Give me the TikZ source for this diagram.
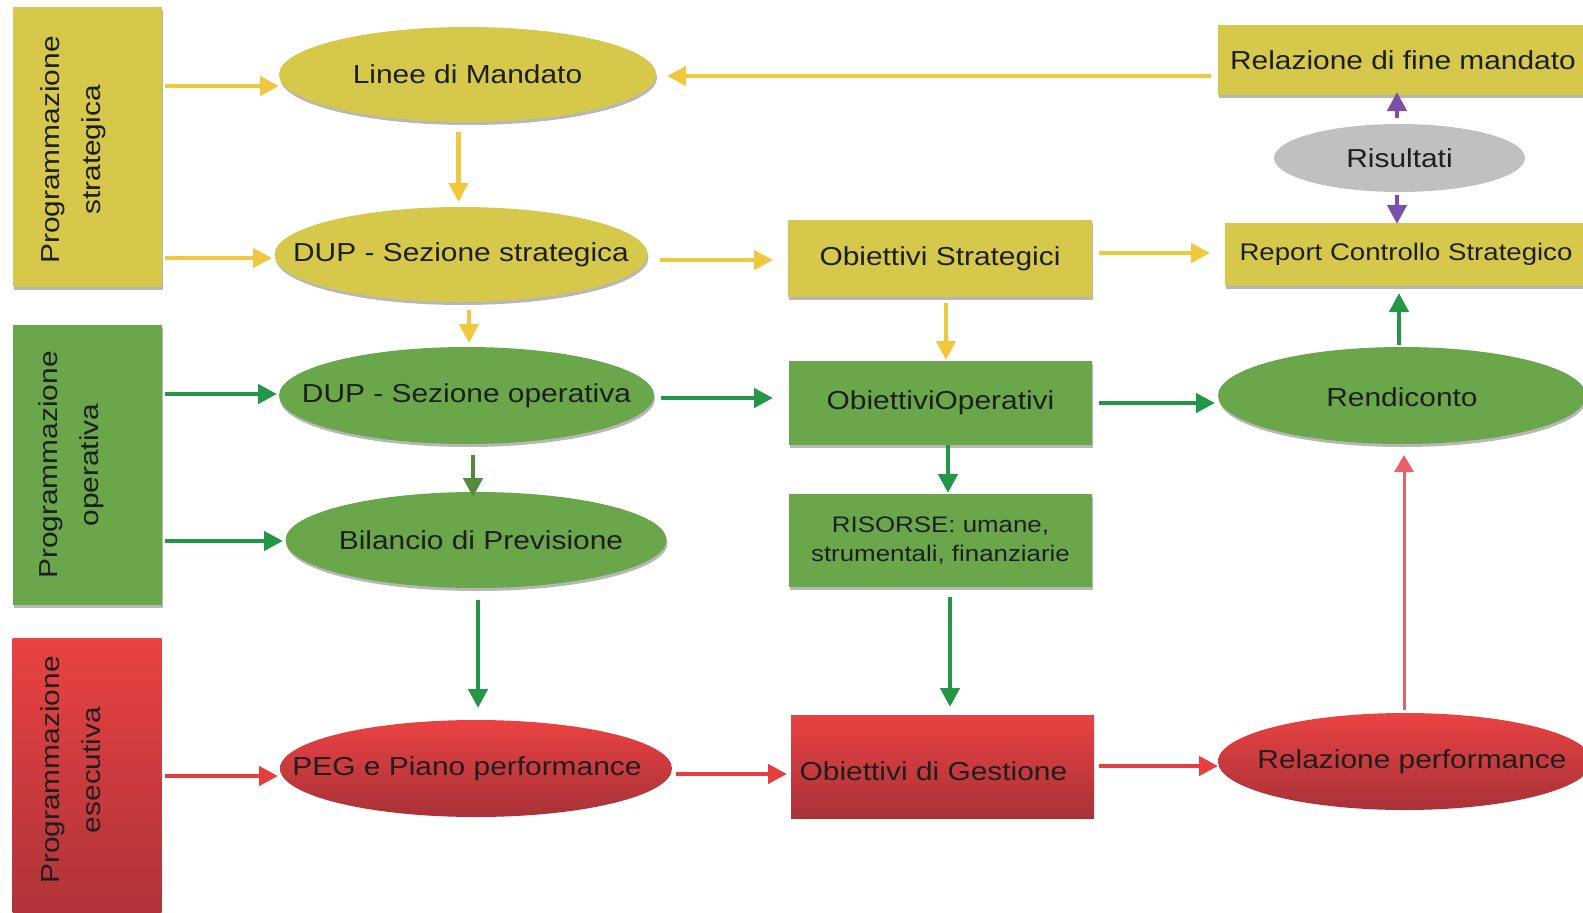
\documentclass[tikz,border=0pt]{standalone}
\usepackage{fontspec}
\setmainfont{Liberation Sans}[FakeStretch=1.15]
\usepackage{xcolor}
\usepackage{tikz}
\usetikzlibrary{calc,positioning,shapes.geometric,arrows.meta,shadows}

\definecolor{stratYellow}{RGB}{214,200,74}
\definecolor{operGreen}{RGB}{106,166,74}
\definecolor{execRedTop}{RGB}{234,66,66}
\definecolor{execRedBot}{RGB}{168,50,56}
\definecolor{resGray}{RGB}{192,192,192}
\definecolor{arrYellow}{RGB}{240,200,62}
\definecolor{arrGreen}{RGB}{36,150,72}
\definecolor{arrOlive}{RGB}{82,138,62}
\definecolor{arrRed}{RGB}{228,62,62}
\definecolor{arrPink}{RGB}{234,96,106}
\definecolor{arrPurple}{RGB}{124,80,168}
\definecolor{txtDark}{RGB}{30,30,30}

\newcommand{\nodeFont}{\fontsize{26}{30}\selectfont}
\newcommand{\sideFont}{\fontsize{26}{41}\selectfont}
\newcommand{\resFont}{\fontsize{22.5}{29}\selectfont}
\newcommand{\reportFont}{\fontsize{24}{28}\selectfont}

\begin{document}
\begin{tikzpicture}[x=1pt, y=-1pt, font=\nodeFont, text=txtDark]
  % requires: \usetikzlibrary{calc,positioning,shapes.geometric,arrows.meta,shadows}
  \tikzset{
    progSideBox/.style={rectangle, draw=none, inner sep=0pt, outer sep=0pt, minimum width=149, minimum height=280},
    progSideText/.style={rotate=90, align=center, inner sep=0pt, font=\sideFont},
    progEllipse/.style={ellipse, draw=none, inner sep=0pt, outer sep=0pt},
    progRect/.style={rectangle, draw=none, inner sep=0pt, outer sep=0pt, align=center},
    stratFill/.style={fill=stratYellow, drop shadow={shadow xshift=1pt, shadow yshift=-3pt, opacity=.4, fill=black!70}},
    operFill/.style={fill=operGreen, drop shadow={shadow xshift=1pt, shadow yshift=-3pt, opacity=.4, fill=black!70}},
    execFill/.style={top color=execRedTop, bottom color=execRedBot},
    flowArrow/.style={line width=4.5pt, -{Triangle[length=19pt,width=19pt]}},
    thinArrow/.style={line width=3pt, -{Triangle[length=17pt,width=19pt]}}
  }

  \useasboundingbox (0,0) rectangle (1583,913);
  \clip (0,0) rectangle (1583,913);

% --- Side bands ---
  \node[progSideBox, stratFill] (sideStrat) at (87,147) {};
  \node[progSideText] (sideStratTxt) at ($(sideStrat.center)+(-14,3)$) {Programmazione\\strategica};
  \node[progSideBox, operFill] (sideOper) at (87,465) {};
  \node[progSideText] (sideOperTxt) at ($(sideOper.center)+(-16,0)$) {Programmazione\\operativa};
  \node[progSideBox, execFill, minimum height=304] (sideExec) at (87,790) {};
  \node[progSideText] (sideExecTxt) at (sideOperTxt |- 0,770) {Programmazione\\esecutiva};

% --- Left column: ellipses ---
  \node[progEllipse, stratFill, minimum width=377, minimum height=95, label={center:Linee di Mandato}] (lineeMandato) at (467.5,74.5) {};
  \node[progEllipse, stratFill, minimum width=373, minimum height=95, label={center:DUP - Sezione strategica}] (dupStrat) at (461,254.5) {};
  \node[progEllipse, operFill, minimum width=375, minimum height=97, label={center:DUP - Sezione operativa}] (dupOper) at (466.5,395.5) {};
  \node[progEllipse, operFill, minimum width=381, minimum height=96, label={[xshift=5pt]center:Bilancio di Previsione}] (bilancio) at (476,540) {};
  \node[progEllipse, execFill, minimum width=392, minimum height=97, label={[xshift=-9pt]center:PEG e Piano performance}] (pegPiano) at (476,768.5) {};

% --- Middle column: boxes ---
  \node[progRect, stratFill, minimum width=304, minimum height=77] (obStrat) at (940,258.5) {Obiettivi Strategici};
  \node[progRect, operFill, minimum width=303, minimum height=84] (obOper) at (940.5,403) {ObiettiviOperativi};
  \node[progRect, operFill, minimum width=303, minimum height=93, font=\resFont] (risorse) at (940.5,540.5) {RISORSE: umane,\\strumentali, finanziarie};
  \node[progRect, execFill, minimum width=303, minimum height=103, text height=29pt] (obGest) at (942.5,766.5) {\hspace*{-18pt}Obiettivi di Gestione};

% --- Right column ---
  \node[progRect, stratFill, minimum width=370, minimum height=70] (relFine) at (1403,60) {Relazione di fine mandato};
  \node[progEllipse, fill=resGray, minimum width=251, minimum height=68, label={center:Risultati}] (risultati) at (1399.5,158) {};
  \node[progRect, stratFill, minimum width=362, minimum height=63, font=\reportFont] (reportCS) at (1406,254.5) {Report Controllo Strategico};
  \node[progEllipse, operFill, minimum width=368, minimum height=97, label={[yshift=-2pt]center:Rendiconto}] (rendiconto) at (1402,395.5) {};
  \node[progEllipse, execFill, minimum width=374, minimum height=97, label={[xshift=7pt]center:Relazione performance}] (relPerf) at (1405,761.5) {};

% --- Strategic arrows (yellow) ---
  \draw[flowArrow, arrYellow] ($(sideStrat.east |- lineeMandato.center)+(3.5,11.5)$) -- ($(lineeMandato.west)+(0,11.5)$);
  \draw[flowArrow, arrYellow] ($(sideStrat.east |- dupStrat.center)+(3.5,3.5)$) -- ($(dupStrat.west)+(-2.5,3.5)$);
  \draw[flowArrow, arrYellow] ($(lineeMandato.south)+(-9,10)$) -- ($(dupStrat.north)+(-2.5,-5)$);
  \draw[flowArrow, arrYellow] ($(dupStrat.south)+(8,8)$) -- ($(dupOper.north)+(2.5,-4)$);
  \draw[flowArrow, arrYellow] ($(dupStrat.east)+(12,5.5)$) -- ($(obStrat.west |- dupStrat.east)+(-15,5.5)$);
  \draw[flowArrow, arrYellow] ($(obStrat.east)+(7,-5.5)$) -- ($(reportCS.west |- obStrat.east)+(-15,-5.5)$);
  \draw[flowArrow, arrYellow] ($(relFine.west |- lineeMandato.east)+(-7,1.5)$) -- ($(lineeMandato.east)+(11,1.5)$);
  \draw[flowArrow, arrYellow] ($(obStrat.south)+(6,6)$) -- ($(obOper.north)+(5.5,-1)$);

% --- Operative arrows (green) ---
  \draw[flowArrow, arrGreen] ($(sideOper.east |- dupOper.center)+(3.5,-1.5)$) -- ($(dupOper.west)+(-2,-1.5)$);
  \draw[flowArrow, arrGreen] ($(sideOper.east |- bilancio.center)+(3.5,1)$) -- ($(bilancio.west)+(-2.5,1)$);
  \draw[flowArrow, arrOlive] ($(dupOper.south)+(6.5,11)$) -- ($(bilancio.north)+(-3,5)$);
  \draw[flowArrow, arrGreen] ($(dupOper.east)+(7,2.5)$) -- ($(obOper.west |- dupOper.east)+(-16,2.5)$);
  \draw[flowArrow, arrGreen] ($(obOper.east)+(7,0)$) -- ($(rendiconto.west |- obOper.east)+(-3,0)$);
  \draw[flowArrow, arrGreen] ($(rendiconto.north)+(-3,-2)$) -- ($(reportCS.south)+(-7,7)$);
  \draw[flowArrow, arrGreen] ($(obOper.south)+(7.5,0)$) -- ($(risorse.north)+(7.5,-1)$);
  \draw[flowArrow, arrGreen] ($(bilancio.south)+(2,12)$) -- ($(pegPiano.north)+(2,-12)$);
  \draw[flowArrow, arrGreen] ($(risorse.south)+(9.5,10)$) -- ($(obGest.north)+(7.5,-8)$);

% --- Executive arrows (red) ---
  \draw[flowArrow, arrRed] ($(sideExec.east |- pegPiano.center)+(3.5,7.5)$) -- ($(pegPiano.west)+(-2,7.5)$);
  \draw[flowArrow, arrRed] ($(pegPiano.east)+(4,5.5)$) -- ($(obGest.west |- pegPiano.east)+(-4,5.5)$);
  \draw[flowArrow, arrRed] ($(obGest.east)+(5,-0.5)$) -- ($(relPerf.west |- obGest.east)+(0,-0.5)$);
  \draw[thinArrow, arrPink] ($(relPerf.north)+(-1,-3)$) -- ($(rendiconto.south)+(2,11)$);

% --- Results arrows (purple) ---
  \draw[flowArrow, arrPurple] ($(risultati.north)+(-2.5,-6)$) -- ($(relFine.south)+(-6,-3)$);
  \draw[flowArrow, arrPurple] ($(risultati.south)+(-2.5,3)$) -- ($(reportCS.north)+(-9,1)$);

\end{tikzpicture}
\end{document}
